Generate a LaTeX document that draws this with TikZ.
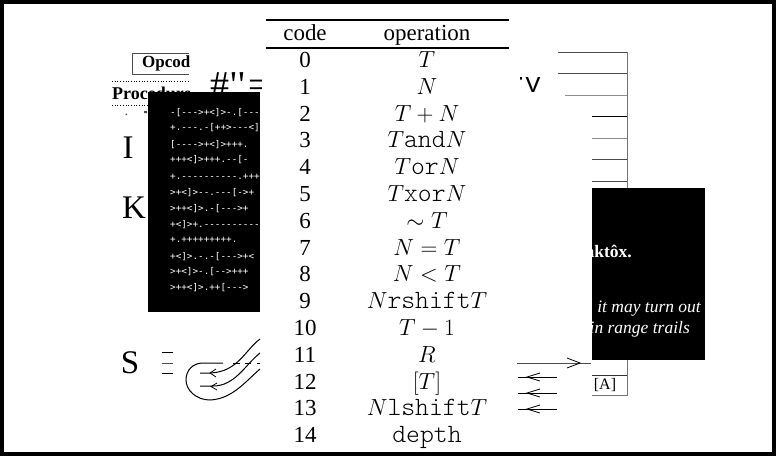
\documentclass[tikz,border=0pt]{standalone}
\usepackage{fontspec}
\setmainfont{Liberation Serif}
\setsansfont{Liberation Sans}
\setmonofont{DejaVu Sans Mono}
\newfontfamily\lightmono[Scale=1.15]{Latin Modern Mono Light}
\newcommand{\ttm}[1]{{\lightmono #1}}
\tikzset{
  tab/.style={font=\fontsize{17}{17}\selectfont,anchor=base,inner sep=0pt,scale=1.35},
  big/.style={font=\fontsize{33}{33}\selectfont,anchor=center,inner sep=0pt},
  bf/.style={font=\fontsize{#1}{#1}\selectfont\bfseries,anchor=base west,inner sep=0pt},
  codeline/.style={font=\fontsize{9.3}{9.3}\selectfont\ttfamily,text=white,anchor=west,inner sep=0pt},
  wtext/.style={text=white,inner sep=0pt,anchor=east},
  arrowline/.style={draw=black,line width=0.9pt},
  curve/.style={draw=black,line width=1pt}}
\begin{document}
\begin{tikzpicture}[x=1pt,y=-1pt]
\useasboundingbox (0,0) rectangle (776,456);
\fill[black] (0,0) rectangle (776,456);
\fill[white] (4,4) rectangle (772,452);

% opcode box and procedure header, cut at x=189
\begin{scope}
\clip (100,40) rectangle (189,110);
\draw[black!70,line width=0.6pt] (189,53) -- (132.5,53) -- (132.5,74) -- (189,74);
\node[bf=17] (opc) at (142,67) {Opcode};
\node[bf=18] (proc) at (112,99) {Procedure};
\end{scope}
\draw[black,dotted,line width=0.7pt] (112,81) -- (189,81);
\draw[black,dotted,line width=0.7pt] (112,105) -- (189,105);
\fill[black!70] (125.5,113.5) rectangle (127,115) (144,111) rectangle (147,113);
\node[big] (letI) at (128,148) {I};
\node[big] (letK) at (134,208) {K};
\node[big] (letS) at (130,363) {S};
\node[font=\fontsize{38}{38}\selectfont,anchor=base west,inner sep=0pt] (hash) at (210,97) {\#\kern1pt\textquotesingle\kern1.5pt\textquotesingle\kern3.5pt=};

% tri-lines by S
\draw[black,line width=0.7pt] (162,352) -- (173,352);
\draw[black!70,line width=1pt] (162,363) -- (173,363);
\draw[black,line width=0.7pt] (162,373) -- (173,373);
% curves
\draw[curve] (260,339) .. controls (245,350) and (238,372) .. (210,373) -- (200,373);
\draw[curve] (260,353) .. controls (245,365) and (235,386) .. (213,386) -- (200,386);
\draw[curve] (260,369) .. controls (245,382) and (232,399) .. (210,400) .. controls (196,400) and (186,390) .. (186,380) .. controls (186,370) and (193,363) .. (203,363) -- (223,363);
\draw[black,line width=0.8pt] (233,363) -- (240,363) (245,363) -- (251,363) (257,363) -- (260,363);
\draw[black,line width=0.8pt] (216,369) -- (210,373) -- (216,377);
\draw[black,line width=0.8pt] (217,383) -- (211,386.5) -- (217,390);

% code black box
\fill[black] (148,92) rectangle (260,312);
\begin{scope}
\clip (148,92) rectangle (260,312);
\node[codeline] (c1) at (170,113) {-[---\string>+\string<]\string>-.[---};
\node[codeline] (c2) at (170,128) {+.---.-[++\string>---\string<]};
\node[codeline] (c3) at (170,145) {[----\string>+\string<]\string>+++.};
\node[codeline] (c4) at (170,160) {+++\string<]\string>+++.--[-};
\node[codeline] (c5) at (170,177) {+.----------.+++};
\node[codeline] (c6) at (170,193) {\string>+\string<]\string>--.---[-\string>+};
\node[codeline] (c7) at (170,209) {\string>++\string<]\string>.-[---\string>+};
\node[codeline] (c8) at (170,225) {+\string<]\string>+.----------};
\node[codeline] (c9) at (170,240) {+.+++++++++.};
\node[codeline] (c10) at (170,257) {+\string<]\string>.-.-[---\string>+\string<};
\node[codeline] (c11) at (170,272) {\string>+\string<]\string>-.[--\string>+++};
\node[codeline] (c12) at (170,288) {\string>++\string<]\string>.++[---\string>};
\end{scope}

% stack at right
\draw[black!55,line width=0.7pt] (627,52) -- (627,395) -- (592,395);
\foreach \xa/\y/\c in {558/52/70,558/73/70,565/95/45,592/116/100,592/138/45,592/159/70,592/181/70}
  \draw[black!\c,line width=0.8pt] (\xa,\y) -- (627,\y);
\draw[black!80,line width=0.7pt] (592,375) -- (627,375);
\node[font=\fontsize{16}{16}\selectfont,inner sep=0pt] (A) at (605,385) {[A]};
\begin{scope}
\clip (510,77) rectangle (550,95);
\node[font=\fontsize{26}{26}\sffamily\selectfont,inner sep=0pt,anchor=base east] (V) at (542,92) {\textquotesingle\kern1pt V};
\end{scope}

% white text on black box right
\fill[black] (592,188) rectangle (705,360);
\begin{scope}
\clip (592,188) rectangle (705,360);
\node[wtext,font=\fontsize{17.5}{17.5}\selectfont\bfseries] (t1) at (632,251) {aktôx.};
\node[wtext,font=\fontsize{17.5}{17.5}\selectfont\itshape] (t2) at (701,309) {it may turn out};
\node[wtext,font=\fontsize{17.5}{17.5}\selectfont\itshape] (t3) at (690,329) {in range trails};
\end{scope}

% arrows
\coordinate (ra) at (517,363);
\coordinate (rb) at (591,363);
\draw[arrowline,black!70] (ra) -- (rb);
\draw[black,line width=0.8pt] (567,358) -- (580,363) -- (567,368);
\foreach \y in {377,393,409}{
  \draw[arrowline] (518,\y) -- (557,\y);
  \draw[black,line width=0.8pt] (540,\y-4) -- (527,\y) -- (540,\y+4);
}

% table
\fill[white] (262,4) rectangle (517,452);
\draw[black,line width=2.2pt] (266,20) -- (509,20);
\draw[black,line width=2.2pt] (266,48) -- (509,48);
\node[tab] (hcode) at (305,40) {code};
\node[tab] (hop) at (427,40) {operation};
\foreach \n/\o in {
 0/{$T$},1/{$N$},2/{$T+N$},3/{$T$\ttm{and}$N$},4/{$T$\ttm{or}$N$},
 5/{$T$\ttm{xor}$N$},6/{$\sim T$},7/{$N=T$},8/{$N<T$},
 9/{$N$\ttm{rshift}$T$},10/{$T-1$},11/{$R$},12/{$[T]$},
 13/{$N$\ttm{lshift}$T$},14/{\ttm{depth}}}{
  \pgfmathsetmacro{\yy}{67.5+26.8*\n}
  \node[tab] (n\n) at (305,\yy) {\n};
  \node[tab] (o\n) at (427,\yy) {\o};
}
\end{tikzpicture}
\end{document}
